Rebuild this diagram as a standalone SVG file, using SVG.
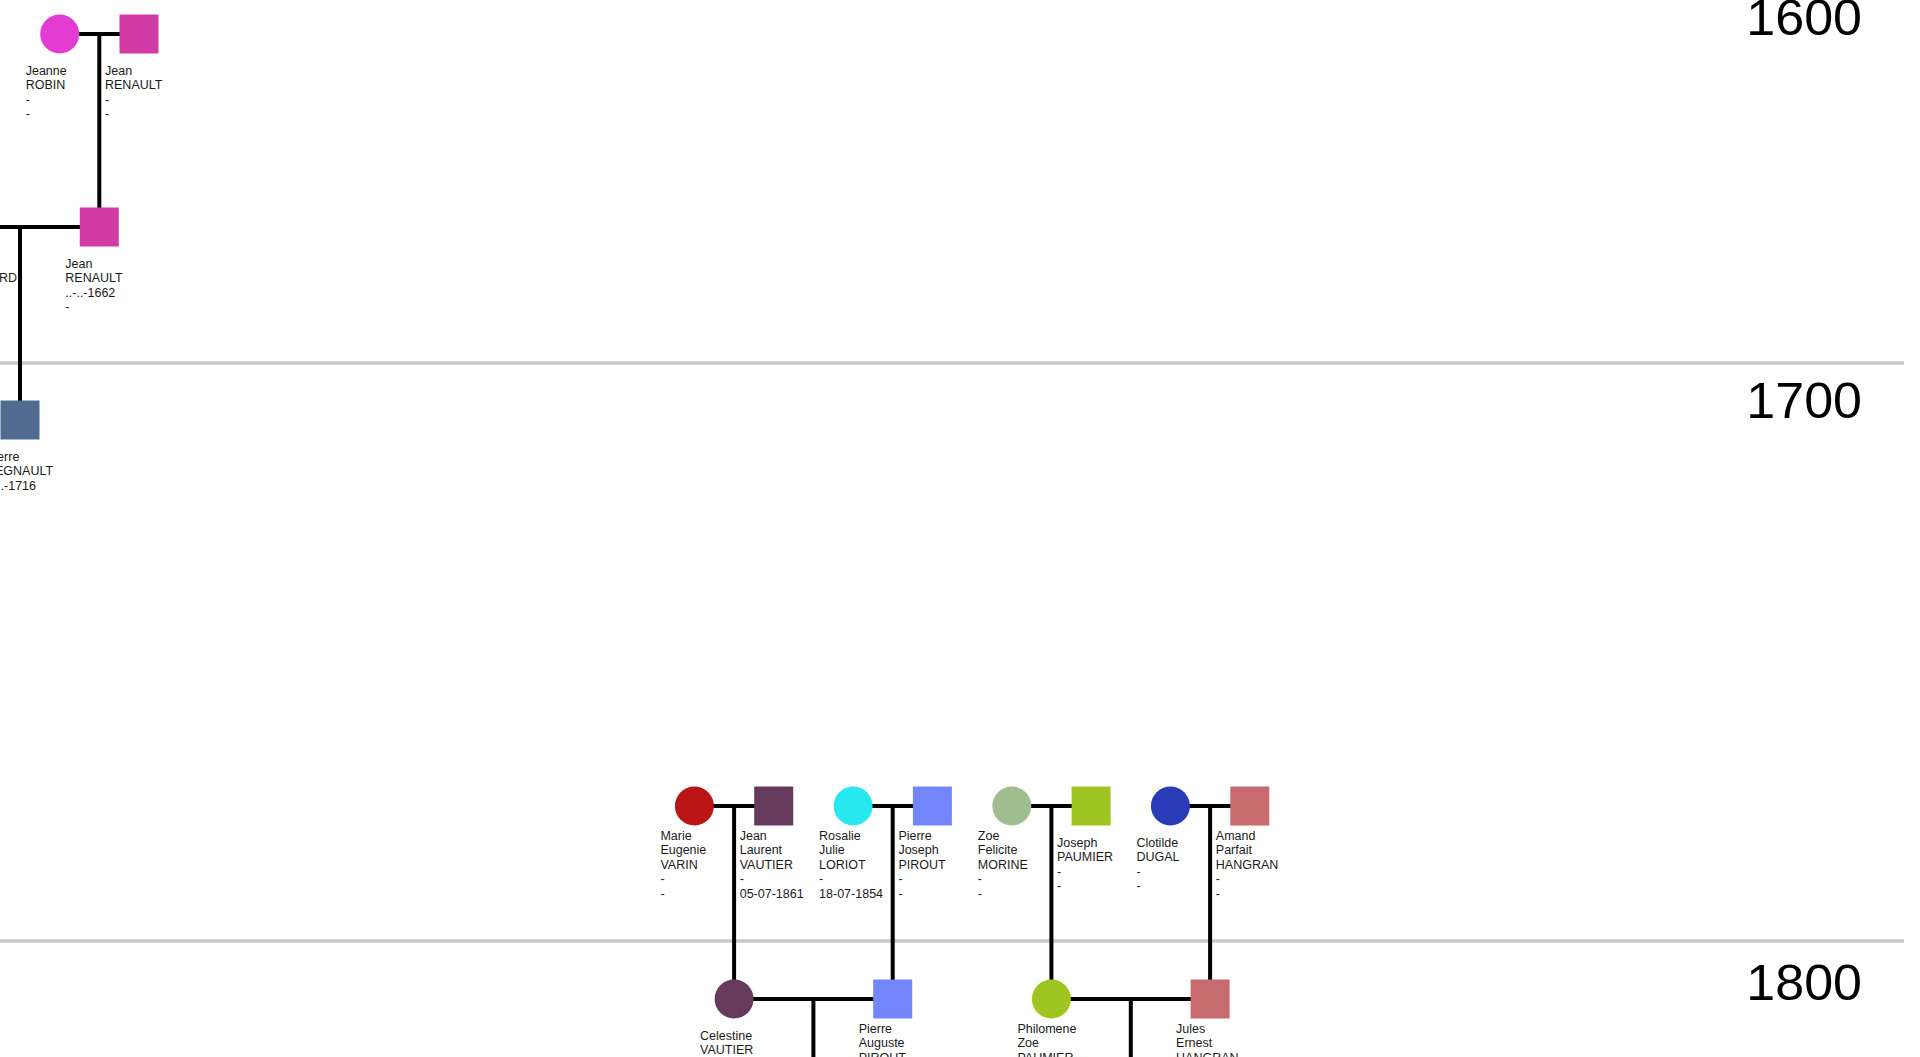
<svg xmlns="http://www.w3.org/2000/svg" width="1920" height="1057" viewBox="0 0 1920 1057">
<style>
.lbl { font-family: "Liberation Sans", Arial, sans-serif; font-size: 12.5px; fill: #1a1a1a; }
.yr { font-family: "Liberation Sans", Arial, sans-serif; font-size: 50px; fill: #000; }
.link { stroke: #000; stroke-width: 4; fill: none; }
.sep { stroke: #c8c8c8; stroke-width: 3.5; }
</style>
<rect x="0" y="0" width="1920" height="1057" fill="#fff"/>
<g id="separators">
<line class="sep" x1="0" y1="363" x2="1904" y2="363"/>
<line class="sep" x1="0" y1="941" x2="1904" y2="941"/>
</g>
<g id="years">
<text class="yr" text-anchor="end" transform="translate(1862,35) scale(1.04,1)">1600</text>
<text class="yr" text-anchor="end" transform="translate(1862,418) scale(1.04,1)">1700</text>
<text class="yr" text-anchor="end" transform="translate(1862,1000) scale(1.04,1)">1800</text>
</g>
<g id="connectors">
<path class="link" d="M59.7,34H139M99.3,34V227"/>
<path class="link" d="M-60,227H99.3M20,227V420"/>
<path class="link" d="M694.4,806H773.7M734.1,806V999"/>
<path class="link" d="M853.1,806H932.4M892.7,806V999"/>
<path class="link" d="M1011.8,806H1091.1M1051.4,806V999"/>
<path class="link" d="M1170.4,806H1249.8M1210.1,806V999"/>
<path class="link" d="M734.1,999H892.7M813.4,999V1070"/>
<path class="link" d="M1051.4,999H1210.1M1130.8,999V1070"/>
</g>
<g id="jeanne-robin">
<circle cx="59.7" cy="34" r="19.5" fill="#e33bd2"/>
<text class="lbl" x="25.7" y="74.7"><tspan x="25.7">Jeanne</tspan><tspan x="25.7" dy="14.5">ROBIN</tspan><tspan x="25.7" dy="14.5">-</tspan><tspan x="25.7" dy="14.5">-</tspan></text>
</g>
<g id="jean-renault-1">
<rect x="119.5" y="14.5" width="39" height="39" fill="#d23ba6"/>
<text class="lbl" x="105" y="74.7"><tspan x="105">Jean</tspan><tspan x="105" dy="14.5">RENAULT</tspan><tspan x="105" dy="14.5">-</tspan><tspan x="105" dy="14.5">-</tspan></text>
</g>
<g id="jean-renault-2">
<rect x="79.8" y="207.5" width="39" height="39" fill="#d23ba6"/>
<text class="lbl" x="65.3" y="267.7"><tspan x="65.3">Jean</tspan><tspan x="65.3" dy="14.5">RENAULT</tspan><tspan x="65.3" dy="14.5">..-..-1662</tspan><tspan x="65.3" dy="14.5">-</tspan></text>
</g>
<g id="partner-rd">
<text class="lbl" x="-1" y="282.2">RD</text>
</g>
<g id="pierre-regnault">
<rect x="0.5" y="400.5" width="39" height="39" fill="#4f6b8f"/>
<text class="lbl" x="-14" y="460.7"><tspan x="-14">Pierre</tspan><tspan x="-14" dy="14.5">REGNAULT</tspan><tspan x="-14" dy="14.5">..-..-1716</tspan><tspan x="-14" dy="14.5">-</tspan></text>
</g>
<g id="marie-varin">
<circle cx="694.4" cy="806" r="19.5" fill="#bb1414"/>
<text class="lbl" y="839.5"><tspan x="660.4">Marie</tspan><tspan x="660.4" dy="14.5">Eugenie</tspan><tspan x="660.4" dy="14.5">VARIN</tspan><tspan x="660.4" dy="14.5">-</tspan><tspan x="660.4" dy="14.5">-</tspan></text>
</g>
<g id="jean-laurent-vautier">
<rect x="754.2" y="786.5" width="39" height="39" fill="#663a5c"/>
<text class="lbl" y="839.5"><tspan x="739.7">Jean</tspan><tspan x="739.7" dy="14.5">Laurent</tspan><tspan x="739.7" dy="14.5">VAUTIER</tspan><tspan x="739.7" dy="14.5">-</tspan><tspan x="739.7" dy="14.5">05-07-1861</tspan></text>
</g>
<g id="rosalie-loriot">
<circle cx="853.1" cy="806" r="19.5" fill="#27e8ee"/>
<text class="lbl" y="839.5"><tspan x="819.1">Rosalie</tspan><tspan x="819.1" dy="14.5">Julie</tspan><tspan x="819.1" dy="14.5">LORIOT</tspan><tspan x="819.1" dy="14.5">-</tspan><tspan x="819.1" dy="14.5">18-07-1854</tspan></text>
</g>
<g id="pierre-joseph-pirout">
<rect x="912.9" y="786.5" width="39" height="39" fill="#7386fb"/>
<text class="lbl" y="839.5"><tspan x="898.4">Pierre</tspan><tspan x="898.4" dy="14.5">Joseph</tspan><tspan x="898.4" dy="14.5">PIROUT</tspan><tspan x="898.4" dy="14.5">-</tspan><tspan x="898.4" dy="14.5">-</tspan></text>
</g>
<g id="zoe-morine">
<circle cx="1011.8" cy="806" r="19.5" fill="#a0bd8f"/>
<text class="lbl" y="839.5"><tspan x="977.8">Zoe</tspan><tspan x="977.8" dy="14.5">Felicite</tspan><tspan x="977.8" dy="14.5">MORINE</tspan><tspan x="977.8" dy="14.5">-</tspan><tspan x="977.8" dy="14.5">-</tspan></text>
</g>
<g id="joseph-paumier">
<rect x="1071.6" y="786.5" width="39" height="39" fill="#9fc620"/>
<text class="lbl" y="846.7"><tspan x="1057.1">Joseph</tspan><tspan x="1057.1" dy="14.5">PAUMIER</tspan><tspan x="1057.1" dy="14.5">-</tspan><tspan x="1057.1" dy="14.5">-</tspan></text>
</g>
<g id="clotilde-dugal">
<circle cx="1170.4" cy="806" r="19.5" fill="#2a3bb8"/>
<text class="lbl" y="846.7"><tspan x="1136.4">Clotilde</tspan><tspan x="1136.4" dy="14.5">DUGAL</tspan><tspan x="1136.4" dy="14.5">-</tspan><tspan x="1136.4" dy="14.5">-</tspan></text>
</g>
<g id="amand-hangran">
<rect x="1230.3" y="786.5" width="39" height="39" fill="#c86b6f"/>
<text class="lbl" y="839.5"><tspan x="1215.8">Amand</tspan><tspan x="1215.8" dy="14.5">Parfait</tspan><tspan x="1215.8" dy="14.5">HANGRAN</tspan><tspan x="1215.8" dy="14.5">-</tspan><tspan x="1215.8" dy="14.5">-</tspan></text>
</g>
<g id="celestine-vautier">
<circle cx="734.1" cy="999" r="19.5" fill="#663a5c"/>
<text class="lbl" y="1039.7"><tspan x="700.1">Celestine</tspan><tspan x="700.1" dy="14.5">VAUTIER</tspan></text>
</g>
<g id="pierre-auguste-pirout">
<rect x="873.2" y="979.5" width="39" height="39" fill="#7386fb"/>
<text class="lbl" y="1032.5"><tspan x="858.7">Pierre</tspan><tspan x="858.7" dy="14.5">Auguste</tspan><tspan x="858.7" dy="14.5">PIROUT</tspan></text>
</g>
<g id="philomene-paumier">
<circle cx="1051.4" cy="999" r="19.5" fill="#9fc620"/>
<text class="lbl" y="1032.5"><tspan x="1017.4">Philomene</tspan><tspan x="1017.4" dy="14.5">Zoe</tspan><tspan x="1017.4" dy="14.5">PAUMIER</tspan></text>
</g>
<g id="jules-hangran">
<rect x="1190.6" y="979.5" width="39" height="39" fill="#c86b6f"/>
<text class="lbl" y="1032.5"><tspan x="1176.1">Jules</tspan><tspan x="1176.1" dy="14.5">Ernest</tspan><tspan x="1176.1" dy="14.5">HANGRAN</tspan></text>
</g>
</svg>
